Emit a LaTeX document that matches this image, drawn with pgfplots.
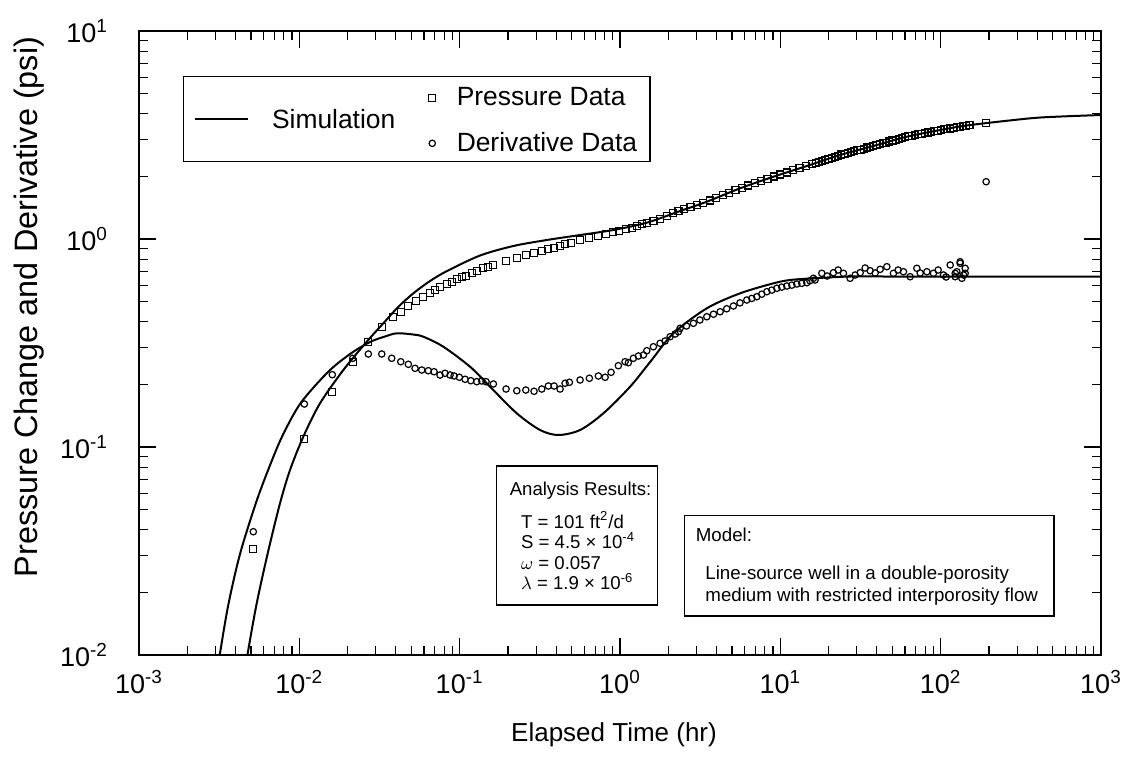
\documentclass[border=0pt]{standalone}
\usepackage{pgfplots}
\pgfplotsset{compat=1.18}
\usepackage{fontspec}
\setmainfont{Liberation Sans}
\pgfplotstableread{
x y
4.27e-3 6.08e-3
4.765e-3 0.01019
5.423e-3 0.01772
6.352e-3 0.03082
7.578e-3 0.05361
8.75e-3 0.07752
0.01059 0.1121
0.01346 0.1622
0.01882 0.2345
0.02634 0.3209
0.03342 0.3933
0.04146 0.4721
0.05142 0.5482
0.06537 0.6282
0.08346 0.7017
0.1341 0.8331
0.2163 0.9255
0.3494 0.989
0.5638 1.045
0.9095 1.105
1.470 1.198
2.371 1.363
3.479 1.511
5.613 1.753
9.06 1.993
14.63 2.244
23.61 2.534
38.09 2.801
61.53 3.103
99.3 3.342
152.8 3.532
361.6 3.804
557 3.88
1003 3.947
}\simP
\pgfplotstableread{
x y
2.894e-3 6.08e-3
3.201e-3 0.01019
3.622e-3 0.01772
4.278e-3 0.03082
5.352e-3 0.05361
6.389e-3 0.07752
7.800e-3 0.1121
0.01017 0.1622
0.01510 0.2294
0.02072 0.2800
0.02761 0.3198
0.03423 0.3399
0.04052 0.3521
0.05120 0.3475
0.05937 0.3391
0.07913 0.3035
0.1161 0.2432
0.1547 0.1949
0.2271 0.1452
0.3174 0.1207
0.4127 0.1142
0.5638 0.1207
0.7880 0.1452
1.156 0.1949
1.541 0.2562
2.153 0.3521
3.479 0.4643
5.613 0.5482
9.06 0.6124
11.51 0.6352
16.09 0.6473
27.25 0.6602
50 0.6602
200 0.6602
1003 0.6602
}\simD
\pgfplotstableread{
x y
5.164e-3 0.03223
0.01075 0.1096
0.01606 0.1845
0.02172 0.2571
0.02694 0.3209
0.03266 0.3788
0.03825 0.4202
0.04291 0.4470
0.04786 0.4764
0.05346 0.5052
0.05937 0.5280
0.06537 0.5482
0.07022 0.5686
0.07543 0.5859
0.0831 0.6076
0.08927 0.6232
0.09592 0.6400
0.1030 0.6544
0.1096 0.6661
0.1190 0.6840
0.1289 0.7017
0.1406 0.7230
0.1510 0.7360
0.1623 0.7476
0.1948 0.7863
0.2271 0.8078
0.2596 0.8348
0.2924 0.8536
0.3253 0.8755
0.3576 0.8923
0.3898 0.9082
0.4229 0.9255
0.4545 0.9430
0.4932 0.9598
0.5638 0.989
0.6444 1.008
0.7332 1.034
0.8188 1.057
0.9017 1.077
0.9915 1.093
1.092 1.113
1.185 1.133
1.273 1.155
1.368 1.177
1.470 1.198
1.616 1.224
1.779 1.252
1.959 1.290
2.153 1.329
2.314 1.368
2.512 1.396
2.754 1.428
3.020 1.459
3.311 1.493
3.631 1.531
3.981 1.576
4.365 1.621
4.786 1.668
5.248 1.717
5.754 1.765
6.310 1.809
6.918 1.854
7.586 1.900
8.318 1.948
9.120 1.996
10.00 2.043
10.96 2.089
12.02 2.138
13.18 2.187
14.45 2.237
15.85 2.290
16.60 2.325
17.38 2.344
18.20 2.365
19.05 2.400
19.95 2.435
20.89 2.457
21.88 2.480
22.91 2.514
23.99 2.550
25.12 2.567
26.30 2.585
27.54 2.617
28.84 2.650
30.20 2.668
31.62 2.690
33.11 2.720
34.67 2.752
36.31 2.773
38.02 2.793
39.81 2.827
41.69 2.862
43.65 2.884
45.71 2.905
47.86 2.941
50.12 2.977
52.48 2.999
54.95 3.020
57.54 3.059
60.26 3.098
63.10 3.115
66.07 3.130
69.18 3.160
72.44 3.190
75.86 3.206
79.43 3.221
83.18 3.252
87.10 3.283
91.20 3.299
95.50 3.314
100.0 3.345
104.7 3.372
109.6 3.385
114.8 3.398
120.2 3.425
125.9 3.452
131.8 3.466
138.0 3.480
144.5 3.508
151.4 3.535
192.2 3.624
}\datP
\pgfplotstableread{
x y
5.164e-3 0.03916
0.01075 0.1609
0.01606 0.2227
0.02153 0.2670
0.02694 0.2800
0.03266 0.2800
0.03770 0.2670
0.04291 0.2571
0.04786 0.2498
0.05269 0.2389
0.05801 0.2345
0.06378 0.2327
0.06922 0.2301
0.07543 0.2219
0.08106 0.2261
0.08712 0.2219
0.09229 0.2195
0.09957 0.2164
0.1081 0.2116
0.1173 0.2084
0.1278 0.2061
0.1374 0.2077
0.1461 0.2061
0.1623 0.2009
0.1948 0.1900
0.2271 0.1865
0.2585 0.1879
0.2911 0.1853
0.3253 0.1900
0.3576 0.1965
0.3881 0.1965
0.4229 0.1900
0.4545 0.2025
0.4835 0.2047
0.5638 0.2100
0.6444 0.2140
0.7332 0.2195
0.8075 0.2164
0.8800 0.2286
0.9772 0.2460
1.076 0.2571
1.128 0.2543
1.212 0.2670
1.302 0.2738
1.400 0.2769
1.470 0.2904
1.616 0.3035
1.779 0.3151
1.911 0.3233
2.054 0.3391
2.206 0.3494
2.314 0.3583
2.371 0.3721
2.600 0.3820
2.871 0.3933
3.150 0.4080
3.479 0.4230
3.830 0.4350
4.212 0.4470
4.630 0.4620
5.099 0.4764
5.600 0.4930
6.180 0.5091
6.640 0.5180
7.136 0.5280
7.660 0.5430
8.236 0.5581
8.850 0.5680
9.510 0.5794
10.20 0.5870
10.98 0.5943
11.80 0.6000
12.68 0.6076
13.60 0.6120
14.63 0.6164
15.30 0.6300
16.09 0.6473
16.48 0.6352
18.15 0.6840
19.59 0.6640
21.44 0.6887
22.94 0.7095
24.76 0.6840
27.25 0.6473
29.29 0.6713
31.47 0.6887
33.81 0.7254
36.33 0.7040
39.04 0.6863
41.94 0.7149
46.17 0.7360
50.77 0.6840
54.31 0.7095
58.61 0.6962
64.52 0.6588
71.05 0.7230
74.49 0.6863
82.03 0.6962
90.19 0.6840
96.47 0.7095
104.1 0.6713
108.2 0.6567
114.7 0.7499
123.2 0.6840
123.2 0.6588
126.2 0.6962
132.3 0.7641
132.3 0.7776
135.6 0.6473
138.8 0.6713
142.2 0.7230
142.2 0.6840
192.2 1.886
}\datD
\begin{document}
\begin{tikzpicture}
\begin{axis}[
  scale only axis,
  width=481pt, height=312pt,
  xmode=log, ymode=log,
  xmin=1e-3, xmax=1e3, ymin=1e-2, ymax=1e1,
  axis line style={line width=1.2pt},
  every tick/.style={black, line width=0.6pt},
  major tick length=8.5pt, minor tick length=4.5pt,
  tick align=inside, tick pos=both,
  xticklabel={\pgfmathparse{int(round(\tick/2.302585093))}10\textsuperscript{\pgfmathresult}},
  yticklabel={\pgfmathparse{int(round(\tick/2.302585093))}10\textsuperscript{\pgfmathresult}},
  ticklabel style={font=\fontsize{13.5}{16}\selectfont},
  yticklabel style={xshift=-12pt},
  xticklabel style={yshift=-4pt},
  xlabel={Elapsed Time (hr)},
  xlabel style={font=\fontsize{13}{15}\selectfont, at={(axis description cs:0.4938,0)}, anchor=center, yshift=-40pt},
  ylabel={Pressure Change and Derivative (psi)},
  ylabel style={font=\fontsize{16.2}{19}\selectfont, at={(axis description cs:-0.1145,0.5577)}, anchor=center},
  legend style={at={(axis description cs:0.3008,0.8560)}, anchor=west, draw=none, fill=none,
    font=\fontsize{13.2}{15.5}\selectfont, row sep=7.9pt, inner sep=0pt,
    /tikz/every odd column/.append style={column sep=8.5pt}},
  legend cell align=left,
  legend image code/.code={\draw[mark repeat=2,mark phase=2,#1] plot coordinates {(0cm,0cm) (0.2cm,0cm) (0.4cm,0cm)};},
]
\draw[line width=0.7pt, fill=white] (axis description cs:0.0461,0.9268) rectangle (axis description cs:0.5312,0.7905);
\draw[line width=1pt] (axis description cs:0.0582,0.8585) -- (axis description cs:0.1136,0.8585);
\node[anchor=west, inner sep=0pt, font=\fontsize{13.2}{15.5}\selectfont] at (axis description cs:0.1379,0.8585) {Simulation};

\addplot[black, line width=1pt, smooth, forget plot] table {\simP};
\addplot[black, line width=1pt, smooth, forget plot] table {\simD};
\addplot[only marks, mark=square, mark size=1.75pt, mark options={black, line width=0.6pt}] table {\datP};
\addlegendentry{Pressure Data}
\addplot[only marks, mark=o, mark size=1.6pt, mark options={black, line width=0.6pt}] table {\datD};
\addlegendentry{Derivative Data}

\draw[line width=0.7pt, fill=white] (axis description cs:0.3715,0.3029) rectangle (axis description cs:0.5391,0.0801);
\node[anchor=base west, inner sep=0pt, font=\fontsize{9.3}{10.25}\selectfont] at (axis description cs:0.385,0.2564) {Analysis Results:};
\node[anchor=base west, inner sep=0pt, font=\fontsize{9.3}{10.25}\selectfont] at (axis description cs:0.3968,0.2030) {T = 101 ft\textsuperscript{2}/d};
\node[anchor=base west, inner sep=0pt, font=\fontsize{9.3}{10.25}\selectfont] at (axis description cs:0.3968,0.1702) {S = 4.5 × 10\textsuperscript{-4}};
\node[anchor=base west, inner sep=0pt, font=\fontsize{9.3}{10.25}\selectfont] at (axis description cs:0.3968,0.1373) {$\omega$ = 0.057};
\node[anchor=base west, inner sep=0pt, font=\fontsize{9.3}{10.25}\selectfont] at (axis description cs:0.3968,0.1045) {$\lambda$ = 1.9 × 10\textsuperscript{-6}};

\draw[line width=0.7pt, fill=white] (axis description cs:0.5673,0.2234) rectangle (axis description cs:0.951,0.0625);
\node[anchor=base west, inner sep=0pt, font=\fontsize{9.35}{10.75}\selectfont] at (axis description cs:0.5785,0.1816) {Model:};
\node[anchor=base west, inner sep=0pt, font=\fontsize{9.35}{10.75}\selectfont] at (axis description cs:0.5884,0.1202) {Line-source well in a double-porosity};
\node[anchor=base west, inner sep=0pt, font=\fontsize{9.35}{10.75}\selectfont] at (axis description cs:0.5884,0.0856) {medium with restricted interporosity flow};
\end{axis}
\pgfresetboundingbox
\path ([shift={(-69.5pt,-60.5pt)}]current axis.south west) rectangle ([shift={(13pt,15.5pt)}]current axis.north east);
\end{tikzpicture}
\end{document}
